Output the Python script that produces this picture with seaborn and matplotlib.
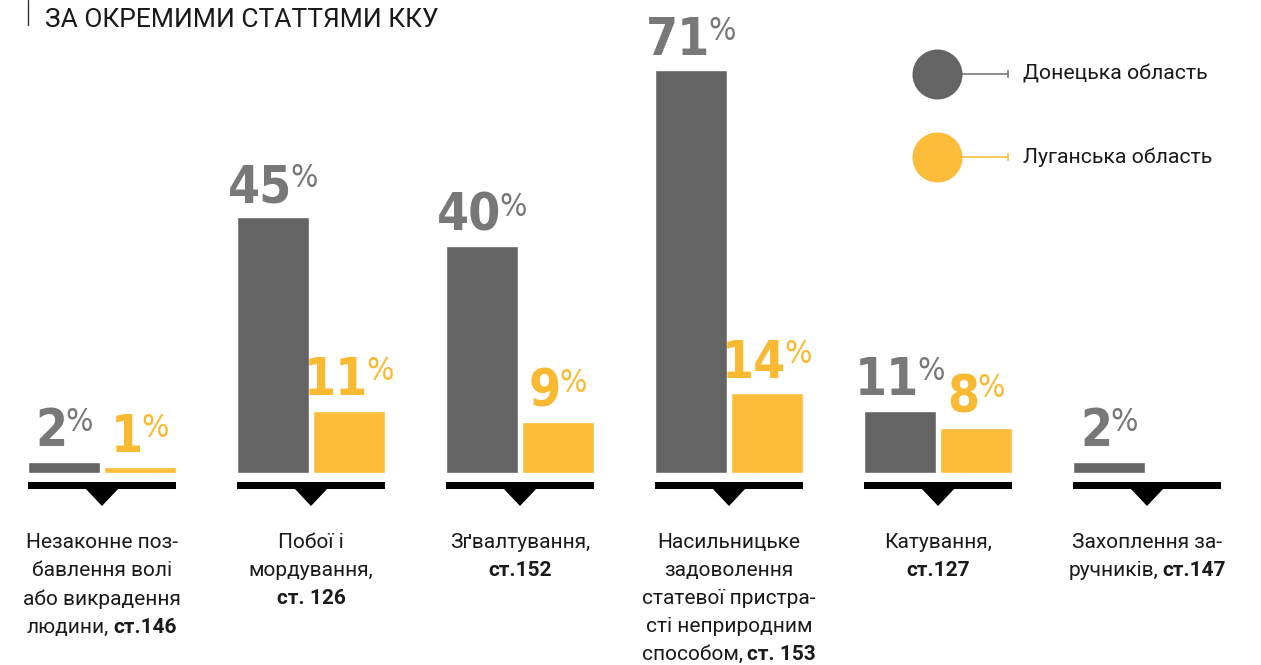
import matplotlib
matplotlib.use("Agg")
import matplotlib.pyplot as plt
import seaborn as sns
import numpy as np
import pandas as pd
from matplotlib.patches import Rectangle, Polygon
from matplotlib.lines import Line2D
from matplotlib.offsetbox import TextArea, HPacker, VPacker, AnnotationBbox

# ---------------- data ----------------
categories = ["Незаконне позбавлення волі", "Побої і мордування", "Зґвалтування",
              "Насильницьке задоволення", "Катування", "Захоплення заручників"]
regions = ["Донецька область", "Луганська область"]
donetsk = [2, 45, 40, 71, 11, 2]
luhansk = [1, 11, 9, 14, 8, np.nan]
cat_labels = [
    [[("Незаконне поз-", False)], [("бавлення волі", False)], [("або викрадення", False)],
     [("людини,", False), ("ст.146", True)]],
    [[("Побої і", False)], [("мордування,", False)], [("ст. 126", True)]],
    [[("Зґвалтування,", False)], [("ст.152", True)]],
    [[("Насильницьке", False)], [("задоволення", False)], [("статевої пристра-", False)],
     [("сті неприродним", False)], [("способом,", False), ("ст. 153", True)]],
    [[("Катування,", False)], [("ст.127", True)]],
    [[("Захоплення за-", False)], [("ручників,", False), ("ст.147", True)]],
]
title = "ЗА ОКРЕМИМИ СТАТТЯМИ ККУ"

# ---------------- style ----------------
DARK = "#646464"
YELLOW = "#FBBC3A"
DARK_TXT = "#787878"
YELLOW_TXT = "#F9B930"
TXT = "#1a1a1a"
NUM_FONT = ["DejaVu Sans"]
BODY_FONT = ["Roboto", "DejaVu Sans"]

W, H = 1261, 665
sns.set_theme(style="white")
plt.rcParams["font.family"] = BODY_FONT

fig = plt.figure(figsize=(W / 100, H / 100), dpi=100)
ax = fig.add_axes([0, 0, 1, 1])

rows = []
for c, d, l in zip(categories, donetsk, luhansk):
    rows.append({"category": c, "region": regions[0], "value": d})
    rows.append({"category": c, "region": regions[1], "value": l})
df = pd.DataFrame(rows)

WIDTH = 0.727
sns.barplot(data=df, x="category", y="value", hue="region", order=categories,
            hue_order=regions, palette=[DARK, YELLOW], saturation=1, width=WIDTH,
            gap=0.053, errorbar=None, legend=False, ax=ax)

# pixel geometry
PXX = 209.0          # px per category
PXY = 5.68           # px per percent
X0 = 102.0           # px of first group centre
BASE = 473.0         # px (from top) of bar baseline
ax.set_xlim(-X0 / PXX, (W - X0) / PXX)
ax.set_ylim(-(H - BASE) / PXY, BASE / PXY)
ax.axis("off")

def dy(px):
    return px / PXY

def dx(px):
    return px / PXX

# base bars and triangles
for i in range(len(categories)):
    ax.add_patch(Rectangle((i - dx(74), -dy(16)), dx(148), dy(7), color="black", lw=0))
    ax.add_patch(Polygon([(i - dx(17), -dy(15)), (i + dx(17), -dy(15)), (i, -dy(33))],
                         closed=True, color="black", lw=0))

# value labels
def value_label(x, v, color):
    num = TextArea(f"{int(v)}", textprops=dict(fontsize=37, fontweight="bold",
                                                fontstretch="condensed",
                                                family=NUM_FONT, color=color))
    pct = TextArea("%", textprops=dict(fontsize=23, fontstretch="condensed",
                                       family=NUM_FONT, color=color))
    box = HPacker(children=[num, pct], align="top", pad=0, sep=-1)
    ab = AnnotationBbox(box, (x, v), xycoords="data", xybox=(0, 3),
                        boxcoords="offset points", box_alignment=(0.5, 0), frameon=False)
    ax.add_artist(ab)

off = WIDTH / 4
for i, (d, l) in enumerate(zip(donetsk, luhansk)):
    value_label(i - off, d, DARK_TXT)
    if not np.isnan(l):
        value_label(i + off, l, YELLOW_TXT)

# category labels
for i, lines in enumerate(cat_labels):
    line_boxes = []
    for segs in lines:
        parts = [TextArea(t, textprops=dict(fontsize=15, family=BODY_FONT, color=TXT,
                                            fontweight="bold" if b else "normal"))
                 for t, b in segs]
        line_boxes.append(HPacker(children=parts, align="baseline", pad=0, sep=3))
    vbox = VPacker(children=line_boxes, align="center", pad=0, sep=6.5)
    ab = AnnotationBbox(vbox, (i, H - 533), xycoords=("data", "figure pixels"),
                        box_alignment=(0.5, 1), frameon=False)
    ax.add_artist(ab)

# title and marker line
fig.text(45 / W, 1 - 27 / H, title, fontsize=19, color=TXT, family=BODY_FONT,
         va="baseline", ha="left")
fig.add_artist(Line2D([28 / W, 28 / W], [1, 1 - 25 / H], color="#333333", lw=1,
                      transform=fig.transFigure))

# legend
for (yy, col, name) in [(74, DARK, regions[0]), (157, YELLOW, regions[1])]:
    fy = 1 - yy / H
    lc = YELLOW if col == YELLOW else "#7a7a7a"
    fig.add_artist(Line2D([962 / W, 1008 / W], [fy, fy], color=lc,
                          lw=1.2, transform=fig.transFigure))
    fig.add_artist(Line2D([1008 / W], [fy], marker="|", ms=6, mew=1.2,
                          color=lc, transform=fig.transFigure))
    fig.add_artist(Line2D([937 / W], [fy], marker="o", ms=36, color=col, mew=0,
                          transform=fig.transFigure))
    fig.text(1023 / W, fy, name, fontsize=15.3, color=TXT, family=BODY_FONT,
             va="center", ha="left")

fig.savefig("out.png", dpi=100)
